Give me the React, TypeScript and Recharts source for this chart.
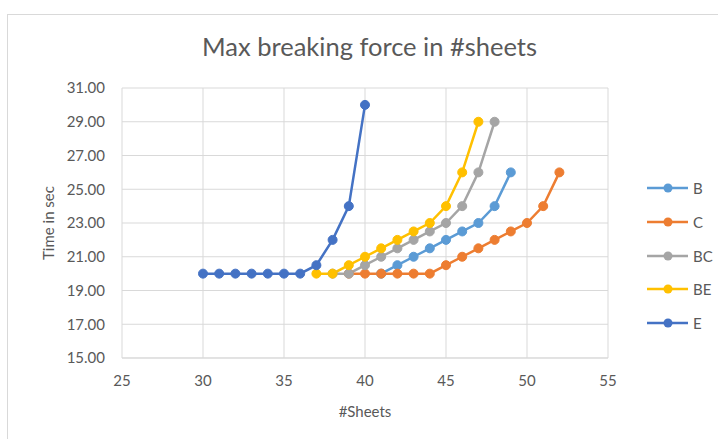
import React from 'react';
import { LineChart, Line, XAxis, YAxis, CartesianGrid } from 'recharts';

// #sheets (x) and time in sec (y) per series
const bSheets = [41, 42, 43, 44, 45, 46, 47, 48, 49];
const bTime = [20, 20.5, 21, 21.5, 22, 22.5, 23, 24, 26];

const cSheets = [39, 40, 41, 42, 43, 44, 45, 46, 47, 48, 49, 50, 51, 52];
const cTime = [20, 20, 20, 20, 20, 20, 20.5, 21, 21.5, 22, 22.5, 23, 24, 26];

const bcSheets = [38, 39, 40, 41, 42, 43, 44, 45, 46, 47, 48];
const bcTime = [20, 20, 20.5, 21, 21.5, 22, 22.5, 23, 24, 26, 29];

const beSheets = [37, 38, 39, 40, 41, 42, 43, 44, 45, 46, 47];
const beTime = [20, 20, 20.5, 21, 21.5, 22, 22.5, 23, 24, 26, 29];

const eSheets = [30, 31, 32, 33, 34, 35, 36, 37, 38, 39, 40];
const eTime = [20, 20, 20, 20, 20, 20, 20, 20.5, 22, 24, 30];

const xTicks = [25, 30, 35, 40, 45, 50, 55];
const yTicks = [15, 17, 19, 21, 23, 25, 27, 29, 31];

const toPoints = (xs: number[], ys: number[]) => xs.map((x, i) => ({ x, y: ys[i] }));

const series = [
  { name: 'B', color: '#5B9BD5', data: toPoints(bSheets, bTime) },
  { name: 'C', color: '#ED7D31', data: toPoints(cSheets, cTime) },
  { name: 'BC', color: '#A5A5A5', data: toPoints(bcSheets, bcTime) },
  { name: 'BE', color: '#FFC000', data: toPoints(beSheets, beTime) },
  { name: 'E', color: '#4472C4', data: toPoints(eSheets, eTime) },
];

const FONT = 'Lato, "Open Sans", sans-serif';
const TEXT = '#595959';
const GRID = '#D9D9D9';

export default function App() {
  return (
    <div style={{ position: 'absolute', left: 0, top: 0, width: 718, height: 439, overflow: 'hidden', background: '#fff', fontFamily: FONT }}>
      <div style={{ position: 'absolute', left: 7, top: 14, width: 800, height: 500, border: `1px solid ${GRID}` }} />
      <div style={{ position: 'absolute', left: 0, top: 31, width: 739, textAlign: 'center', fontSize: 25.5, color: TEXT, lineHeight: '30px' }}>
        Max breaking force in #sheets
      </div>
      <div style={{ position: 'absolute', left: 0, top: 402, width: 730, textAlign: 'center', fontSize: 15, color: TEXT, lineHeight: '18px' }}>
        #Sheets
      </div>
      <div style={{ position: 'absolute', left: 48, top: 223, transform: 'translate(-50%, -50%) rotate(-90deg)', fontSize: 15, color: TEXT, whiteSpace: 'nowrap', lineHeight: '18px' }}>
        Time in sec
      </div>
      <div style={{ position: 'absolute', left: 0, top: 0 }}>
        <LineChart width={718} height={439} margin={{ top: 88, right: 110, bottom: 51, left: 0 }}>
          <CartesianGrid stroke={GRID} strokeWidth={1} verticalValues={xTicks} horizontalValues={yTicks} />
          <XAxis
            type="number"
            dataKey="x"
            height={30}
            domain={[25, 55]}
            ticks={xTicks}
            allowDataOverflow
            stroke={GRID}
            tickLine={false}
            tickSize={6}
            tickMargin={11}
            tick={{ fill: TEXT, fontSize: 15, fontFamily: FONT }}
          />
          <YAxis
            type="number"
            dataKey="y"
            width={122}
            domain={[15, 31]}
            ticks={yTicks}
            allowDataOverflow
            axisLine={false}
            tickLine={false}
            tickSize={6}
            tickMargin={11}
            tickFormatter={(v: number) => v.toFixed(2)}
            tick={{ fill: TEXT, fontSize: 15, fontFamily: FONT }}
          />
          {series.map((s) => (
            <Line
              key={s.name}
              data={s.data}
              dataKey="y"
              name={s.name}
              stroke={s.color}
              strokeWidth={2.5}
              dot={{ r: 4.5, fill: s.color, stroke: s.color, strokeWidth: 1 }}
              activeDot={false}
              isAnimationActive={false}
            />
          ))}
        </LineChart>
      </div>
      {series.map((s, i) => (
        <div key={s.name} style={{ position: 'absolute', left: 647, top: 188 + i * 33.8 - 9, height: 18, display: 'flex', alignItems: 'center' }}>
          <svg width={42} height={18}>
            <line x1={0} y1={9} x2={41} y2={9} stroke={s.color} strokeWidth={2.5} />
            <circle cx={21} cy={9} r={4.5} fill={s.color} />
          </svg>
          <span style={{ marginLeft: 4, fontSize: 15, color: TEXT, lineHeight: '18px' }}>{s.name}</span>
        </div>
      ))}
    </div>
  );
}
